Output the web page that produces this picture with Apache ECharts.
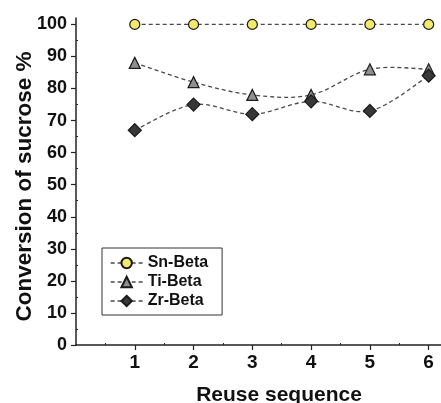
<!DOCTYPE html>
<html>
<head>
<meta charset="utf-8">
<script src="https://cdn.jsdelivr.net/npm/echarts@6/dist/echarts.min.js"></script>
<style>
  html, body { margin: 0; padding: 0; background: #fff; }
  #chart { width: 441px; height: 403px; }
</style>
</head>
<body>
<div id="chart"></div>
<script>
// Reuse runs and sucrose conversion (%) for each catalyst
const reuseRuns = [1, 2, 3, 4, 5, 6];
const snBeta = [100, 100, 100, 100, 100, 100];
const tiBeta = [88, 82, 78, 78, 86, 86];
const zrBeta = [67, 75, 72, 76, 73, 84];
const yTicks = [0, 10, 20, 30, 40, 50, 60, 70, 80, 90, 100];
const yMinorTicks = [5, 15, 25, 35, 45, 55, 65, 75, 85, 95];
const xMinorTicks = [0.5, 1.5, 2.5, 3.5, 4.5, 5.5];

const FONT = '"Liberation Sans", Arial, Helvetica, sans-serif';
const AXIS_COLOR = '#222';
const LINE_COLOR = '#4a4a4a';
const DASH = [4, 3];

const pairs = (ys) => reuseRuns.map((x, i) => [x, ys[i]]);

// Dashed Catmull-Rom spline through a series' points, positioned with the axes' scales
function splineSeries(values) {
  const data = pairs(values);
  return {
    type: 'custom',
    coordinateSystem: 'cartesian2d',
    data: data,
    z: 1,
    silent: true,
    animation: false,
    renderItem: function (params, api) {
      if (params.dataIndex !== 0) return null;
      const p = data.map((d) => api.coord(d));
      let path = 'M' + p[0][0] + ' ' + p[0][1];
      for (let i = 0; i < p.length - 1; i++) {
        const p0 = p[Math.max(i - 1, 0)];
        const p1 = p[i];
        const p2 = p[i + 1];
        const p3 = p[Math.min(i + 2, p.length - 1)];
        const c1x = p1[0] + (p2[0] - p0[0]) / 6;
        const c1y = p1[1] + (p2[1] - p0[1]) / 6;
        const c2x = p2[0] - (p3[0] - p1[0]) / 6;
        const c2y = p2[1] - (p3[1] - p1[1]) / 6;
        path += ' C' + c1x + ' ' + c1y + ' ' + c2x + ' ' + c2y + ' ' + p2[0] + ' ' + p2[1];
      }
      return {
        type: 'path',
        shape: { pathData: path },
        style: { fill: 'none', stroke: LINE_COLOR, lineWidth: 1.3, lineDash: DASH }
      };
    }
  };
}

// Markers (and legend entries) for a series
function markerSeries(name, values, symbol, size, fill) {
  return {
    name: name,
    type: 'line',
    data: pairs(values),
    z: 3,
    symbol: symbol,
    symbolSize: size,
    showAllSymbol: true,
    itemStyle: { color: fill, borderColor: '#1a1a1a', borderWidth: 1.2 },
    lineStyle: { color: LINE_COLOR, width: 1.3, type: DASH, opacity: 0 },
    emphasis: { disabled: true },
    animation: false
  };
}

const chart = echarts.init(document.getElementById('chart'), null, { renderer: 'canvas' });

chart.setOption({
  animation: false,
  backgroundColor: '#ffffff',
  grid: { left: 76, right: 0, top: 18, bottom: 58, containLabel: false, outerBoundsMode: 'none' },
  legend: {
    orient: 'vertical',
    left: 102,
    top: 248,
    padding: [7, 14, 6, 8],
    itemGap: 3,
    itemWidth: 32,
    itemHeight: 13,
    backgroundColor: '#ffffff',
    borderColor: '#333',
    borderWidth: 1,
    lineStyle: { color: LINE_COLOR, width: 1.3, type: DASH, opacity: 1 },
    textStyle: { fontFamily: FONT, fontWeight: 'bold', fontSize: 16, color: '#111' },
    data: ['Sn-Beta', 'Ti-Beta', 'Zr-Beta']
  },
  graphic: [{
    type: 'text',
    style: {
      x: 279, y: 395,
      text: 'Reuse sequence',
      font: 'bold 21px ' + FONT,
      fill: '#111',
      textAlign: 'center',
      textVerticalAlign: 'middle'
    }
  }],
  xAxis: [{
    type: 'value',
    min: 0,
    max: 6.21,
    axisLine: { show: true, onZero: false, lineStyle: { color: AXIS_COLOR, width: 1.5 } },
    axisTick: { show: true, length: 5, inside: false, customValues: reuseRuns, lineStyle: { color: AXIS_COLOR, width: 1.2 } },
    axisLabel: { show: true, customValues: reuseRuns, margin: 8, fontFamily: FONT, fontWeight: 'bold', fontSize: 19, color: '#111' },
    splitLine: { show: false }
  }, {
    type: 'value',
    position: 'bottom',
    min: 0,
    max: 6.21,
    axisLine: { show: false },
    axisTick: { show: true, length: 2, inside: true, customValues: xMinorTicks, lineStyle: { color: AXIS_COLOR, width: 1 } },
    axisLabel: { show: false },
    splitLine: { show: false }
  }],
  yAxis: [{
    type: 'value',
    min: 0,
    max: 102,
    name: 'Conversion of sucrose %',
    nameLocation: 'middle',
    nameGap: 40,
    nameMoveOverlap: false,
    nameTextStyle: { fontFamily: FONT, fontWeight: 'bold', fontSize: 22.5, color: '#111', padding: [0, 10, 0, 0] },
    axisLine: { show: true, onZero: false, lineStyle: { color: AXIS_COLOR, width: 1.5 } },
    axisTick: { show: true, length: 5, inside: false, customValues: yTicks, lineStyle: { color: AXIS_COLOR, width: 1.2 } },
    axisLabel: { show: true, customValues: yTicks, margin: 9, fontFamily: FONT, fontWeight: 'bold', fontSize: 18, color: '#111' },
    splitLine: { show: false }
  }, {
    type: 'value',
    position: 'left',
    min: 0,
    max: 102,
    axisLine: { show: false },
    axisTick: { show: true, length: 2, inside: true, customValues: yMinorTicks, lineStyle: { color: AXIS_COLOR, width: 1 } },
    axisLabel: { show: false },
    splitLine: { show: false }
  }],
  series: [
    splineSeries(snBeta),
    splineSeries(tiBeta),
    splineSeries(zrBeta),
    markerSeries('Sn-Beta', snBeta, 'circle', 10, '#f4ea6a'),
    markerSeries('Ti-Beta', tiBeta, 'triangle', 11, '#8f8f8f'),
    markerSeries('Zr-Beta', zrBeta, 'diamond', 13, '#383838')
  ]
});
</script>
</body>
</html>
